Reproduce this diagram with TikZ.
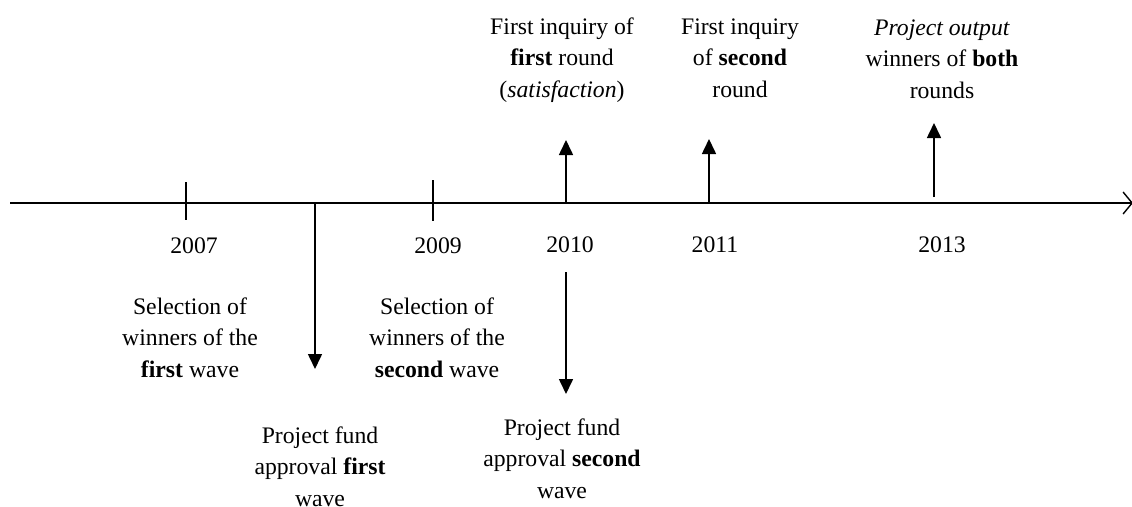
\documentclass[tikz,border=0pt]{standalone}
\usepackage{fontspec}
\setmainfont{Liberation Serif}
\usetikzlibrary{arrows.meta}
\begin{document}
\begin{tikzpicture}[x=1pt,y=-1pt,
  lbl/.style={inner sep=0pt,anchor=base,align=center,font=\fontsize{23.7}{31.5}\selectfont},
  axisline/.style={line width=1.6pt,-{Straight Barb[length=9pt,width=22pt,line width=1.4pt]}},
  tick/.style={line width=1.6pt},
  evarrow/.style={line width=1.6pt,-{Triangle[length=15pt,width=14pt]}}]
\useasboundingbox (0,0) rectangle (1132,506);
% axis
\coordinate (axL) at (10,203);
\coordinate (axR) at (1133,203);
\draw[axisline] (axL) -- (axR);
% ticks
\coordinate (t7a) at (186,182); \coordinate (t7b) at (186,220);
\coordinate (t9a) at (433,180); \coordinate (t9b) at (433,221);
\draw[tick] (t7a) -- (t7b);
\draw[tick] (t9a) -- (t9b);
% event arrows
\coordinate (d1s) at (315,203); \coordinate (d1e) at (315,369);
\coordinate (u1s) at (566,203); \coordinate (u1e) at (566,140);
\coordinate (u2s) at (709,203); \coordinate (u2e) at (709,139);
\coordinate (u3s) at (934,197); \coordinate (u3e) at (934,123);
\coordinate (d2s) at (566,272); \coordinate (d2e) at (566,394);
\draw[evarrow] (d1s) -- (d1e);
\draw[evarrow] (u1s) -- (u1e);
\draw[evarrow] (u2s) -- (u2e);
\draw[evarrow] (u3s) -- (u3e);
\draw[evarrow] (d2s) -- (d2e);
% years
\node[lbl] (y2007) at (194,253) {2007};
\node[lbl] (y2009) at (438,253) {2009};
\node[lbl] (y2010) at (570,252) {2010};
\node[lbl] (y2011) at (715,252) {2011};
\node[lbl] (y2013) at (942,252) {2013};
% texts (anchor base = baseline of last line)
\node[lbl] (sel1) at (190,377) {Selection of\\winners of the\\\textbf{first} wave};
\node[lbl] (sel2) at (437,377) {Selection of\\winners of the\\\textbf{second} wave};
\node[lbl] (fund1) at (320,506) {Project fund\\approval \textbf{first}\\wave};
\node[lbl] (fund2) at (562,498) {Project fund\\approval \textbf{second}\\wave};
\node[lbl] (inq1) at (562,97) {First inquiry of\\\textbf{first} round\\(\textit{satisfaction})};
\node[lbl] (inq2) at (740,97) {First inquiry\\of \textbf{second}\\round};
\node[lbl] (out) at (942,98) {\textit{Project output}\\winners of \textbf{both}\\rounds};
\end{tikzpicture}
\end{document}
